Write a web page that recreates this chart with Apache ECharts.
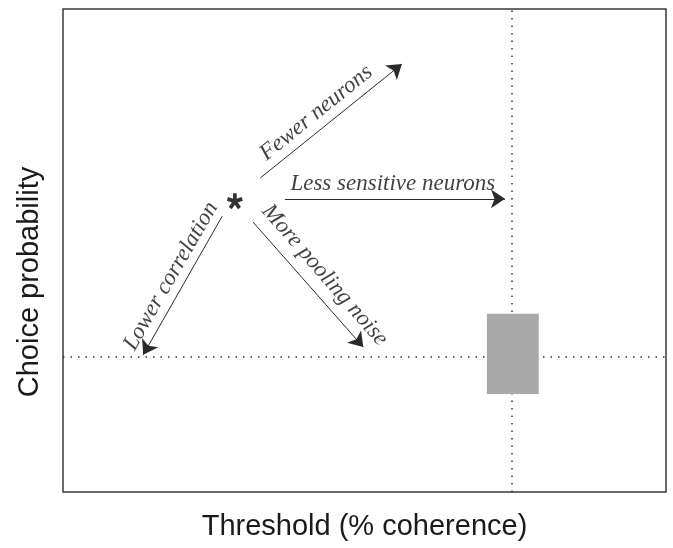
<!DOCTYPE html>
<html>
<head>
<meta charset="utf-8">
<script src="https://cdn.jsdelivr.net/npm/echarts@6/dist/echarts.min.js"></script>
<style>
  html, body { margin: 0; padding: 0; background: #fff; }
  #chart { width: 673px; height: 548px; }
</style>
</head>
<body>
<div id="chart"></div>
<script>
// axis range (arbitrary units, schematic figure)
const xRange = [0, 100]
const yRange = [0, 100]

// reference dotted lines
const thresholdRef = 74.5
const choiceRef = 28

// shaded data region
const boxX = [70.3, 78.9]
const boxY = [20.3, 36.9]

// starting point (model prediction)
const starPoint = [28.5, 60.2]

// arrows: start / end in data units
const arrowNames = ['Fewer neurons', 'Less sensitive neurons', 'Lower correlation', 'More pooling noise']
const arrowFrom = [[32.7, 65.0], [36.8, 60.7], [26.4, 57.1], [31.5, 55.9]]
const arrowTo = [[56.2, 88.6], [73.3, 60.7], [13.3, 28.4], [49.8, 30.0]]

// label anchor and rotation for each arrow
const labelPos = [[42.0, 78.5], [54.7, 63.8], [17.9, 44.7], [43.4, 44.9]]
const labelAngle = [39, 0, 60, -49]

// five-armed asterisk as a symbol path
const starPath = (() => {
  const c = 50, len = 50, w = 12
  let d = ''
  for (let k = 0; k < 5; k++) {
    const a = (-90 + k * 72) * Math.PI / 180
    const ux = Math.cos(a), uy = Math.sin(a)
    const px = -uy * w, py = ux * w
    const pts = [
      [c + px, c + py], [c + ux * len + px, c + uy * len + py],
      [c + ux * len - px, c + uy * len - py], [c - px, c - py]
    ]
    d += 'M' + pts.map(p => p[0].toFixed(1) + ' ' + p[1].toFixed(1)).join(' L') + ' Z '
  }
  return 'path://' + d
})()

const chart = echarts.init(document.getElementById('chart'))

const option = {
  animation: false,
  grid: {
    left: 63,
    right: 7,
    top: 9,
    bottom: 56,
    show: true,
    borderColor: '#3a3a3a',
    borderWidth: 1.5
  },
  xAxis: {
    type: 'value',
    min: xRange[0],
    max: xRange[1],
    axisLine: { show: false },
    axisTick: { show: false },
    axisLabel: { show: false },
    splitLine: { show: false },
    name: 'Threshold (% coherence)',
    nameLocation: 'middle',
    nameGap: 20,
    nameTextStyle: {
      fontFamily: 'Liberation Sans',
      fontSize: 29,
      color: '#1a1a1a'
    }
  },
  yAxis: {
    type: 'value',
    min: yRange[0],
    max: yRange[1],
    axisLine: { show: false },
    axisTick: { show: false },
    axisLabel: { show: false },
    splitLine: { show: false }
  },
  graphic: [
    {
      type: 'text',
      x: 30,
      y: 282,
      rotation: Math.PI / 2,
      style: {
        text: 'Choice probability',
        font: '29px "Liberation Sans"',
        fill: '#1a1a1a',
        align: 'center',
        verticalAlign: 'middle'
      }
    }
  ],
  series: [
    {
      // dotted reference lines
      type: 'scatter',
      data: [],
      z: 1,
      markLine: {
        silent: true,
        symbol: 'none',
        label: { show: false },
        lineStyle: { color: '#333', width: 1.5, type: [1.5, 6] },
        data: [{ xAxis: thresholdRef }, { yAxis: choiceRef }]
      }
    },
    {
      type: 'custom',
      z: 5,
      data: [[boxX[0], boxY[1], boxX[1], boxY[0]]],
      renderItem: (params, api) => {
        const p1 = api.coord([api.value(0), api.value(1)])
        const p2 = api.coord([api.value(2), api.value(3)])
        return {
          type: 'rect',
          shape: { x: p1[0], y: p1[1], width: p2[0] - p1[0], height: p2[1] - p1[1] },
          style: { fill: '#a9a9a9' }
        }
      }
    },
    {
      type: 'lines',
      coordinateSystem: 'cartesian2d',
      z: 6,
      symbol: ['none', 'arrow'],
      symbolSize: [7, 14],
      lineStyle: { color: '#2a2a2a', width: 1, opacity: 1 },
      data: arrowNames.map((n, i) => ({ name: n, coords: [arrowFrom[i], arrowTo[i]] }))
    },
    {
      type: 'scatter',
      z: 7,
      symbol: starPath,
      symbolSize: 16,
      itemStyle: { color: '#000' },
      data: [starPoint]
    },
    {
      type: 'scatter',
      z: 8,
      symbolSize: 0,
      data: arrowNames.map((n, i) => ({
        value: labelPos[i],
        label: { formatter: n, rotate: labelAngle[i] }
      })),
      label: {
        show: true,
        position: 'inside',
        fontFamily: 'Liberation Serif',
        fontStyle: 'italic',
        fontSize: 23,
        color: '#111'
      }
    }
  ]
}

chart.setOption(option)
</script>
</body>
</html>
